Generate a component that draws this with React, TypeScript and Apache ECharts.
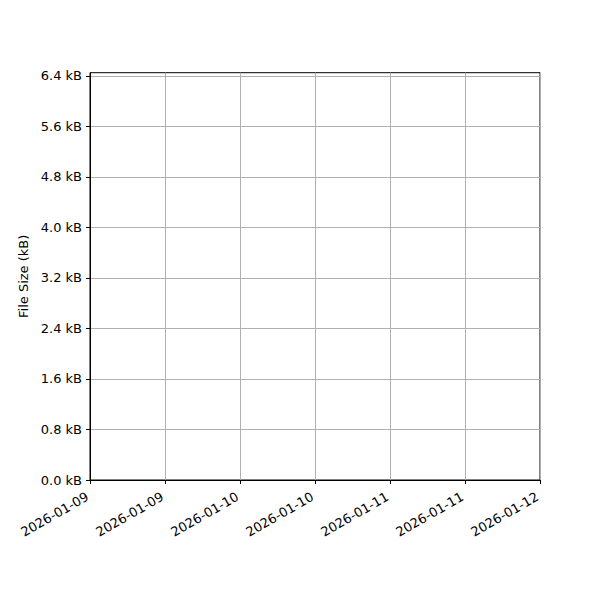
import React, { useEffect, useRef } from 'react';
import * as echarts from 'echarts';

// Dates on the x axis (ticks every 12 h, matplotlib labels only show the day)
const dateLabels = ['2026-01-09', '2026-01-09', '2026-01-10', '2026-01-10', '2026-01-11', '2026-01-11', '2026-01-12'];
// Y ticks in kB
const yTicks = [0, 0.8, 1.6, 2.4, 3.2, 4.0, 4.8, 5.6, 6.4];
const yMax = 6.45;
// No data recorded: empty series
const fileSizes: number[] = [];

const FONT = '"DejaVu Sans", sans-serif';

const App: React.FC = () => {
	const chartRef = useRef<HTMLDivElement>(null);

	useEffect(() => {
		if (!chartRef.current) return;
		const chart = echarts.init(chartRef.current, undefined, { renderer: 'svg' });

		const option: echarts.EChartsOption = {
			animation: false,
			backgroundColor: '#fff',
			textStyle: { fontFamily: FONT },
			grid: {
				left: 90,
				top: 72.7,
				width: 450,
				height: 407.3,
				show: true,
				borderColor: '#000',
				borderWidth: 1,
				backgroundColor: 'transparent'
			},
			xAxis: {
				type: 'category',
				data: dateLabels,
				boundaryGap: false,
				axisLine: { lineStyle: { color: '#000', width: 1 } },
				axisTick: { show: true, length: 4, lineStyle: { color: '#000' }, alignWithLabel: true },
				axisLabel: {
					rotate: 30,
					interval: 0,
					margin: 14,
					padding: [0, 3, 0, 0],
					color: '#000',
					fontSize: 13,
					fontFamily: FONT
				},
				splitLine: { show: true, lineStyle: { color: '#b0b0b0', width: 1 } }
			},
			yAxis: {
				type: 'value',
				min: 0,
				max: yMax,
				interval: 0.8,
				name: 'File Size (kB)',
				nameLocation: 'middle',
				nameGap: 58,
				nameTextStyle: { color: '#000', fontSize: 13, fontFamily: FONT },
				axisLine: { show: true, lineStyle: { color: '#000', width: 1 } },
				axisTick: { show: true, length: 4, lineStyle: { color: '#000' }, customValues: yTicks } as any,
				axisLabel: {
					customValues: yTicks,
					margin: 8,
					color: '#000',
					fontSize: 13,
					fontFamily: FONT,
					formatter: (v: number) => v.toFixed(1) + ' kB'
				} as any,
				splitLine: { show: true, lineStyle: { color: '#b0b0b0', width: 1 } }
			},
			series: [
				{
					name: 'File Size',
					type: 'line',
					data: fileSizes,
					lineStyle: { color: '#1f77b4' }
				}
			]
		};

		chart.setOption(option);
		return () => {
			chart.dispose();
		};
	}, []);

	return <div ref={chartRef} style={{ position: 'fixed', left: 0, top: 0, width: 600, height: 600 }} />;
};

export default App;
